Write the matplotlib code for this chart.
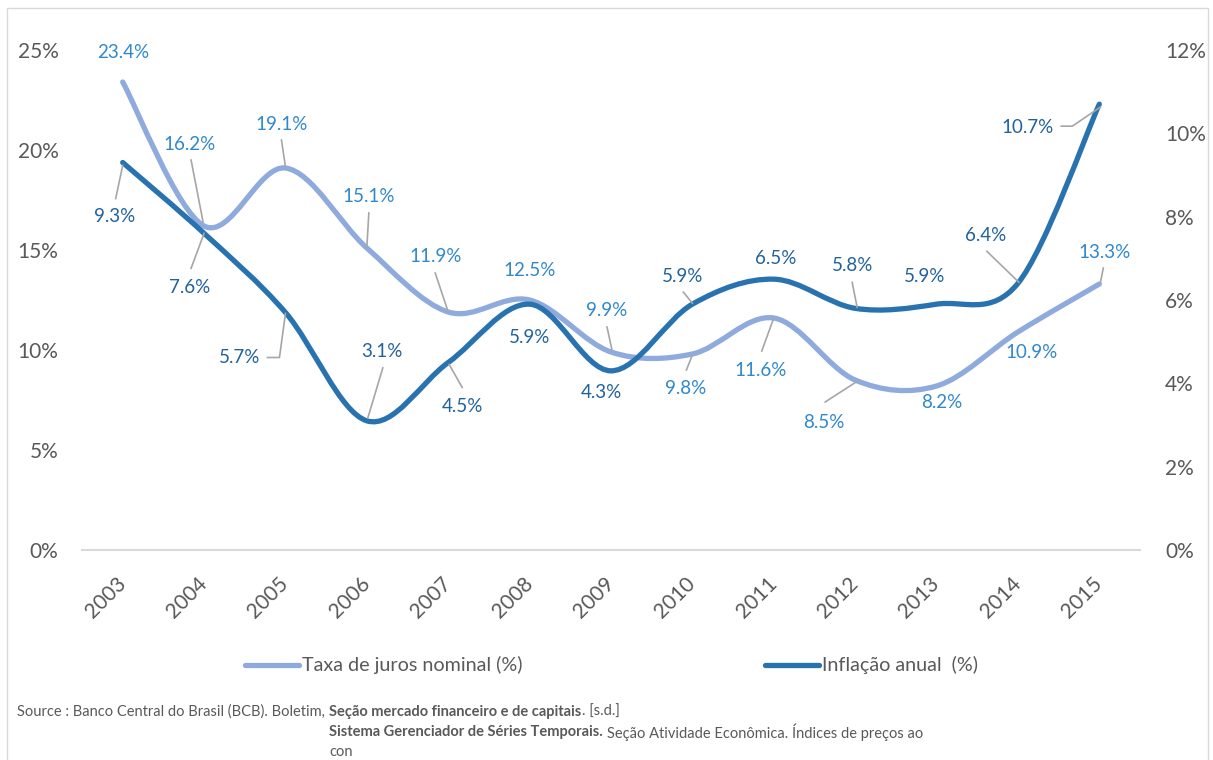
import matplotlib
matplotlib.use("Agg")
import matplotlib.pyplot as plt
from matplotlib.path import Path
from matplotlib.patches import PathPatch, Rectangle
from matplotlib.lines import Line2D
import numpy as np

plt.rcParams["font.family"] = ["Lato", "DejaVu Sans"]

# ---- data -----------------------------------------------------------------
years = [str(y) for y in range(2003, 2016)]
juros = [23.4, 16.2, 19.1, 15.1, 11.9, 12.5, 9.9, 9.8, 11.6, 8.5, 8.2, 10.9, 13.3]
inflacao = [9.3, 7.6, 5.7, 3.1, 4.5, 5.9, 4.3, 5.9, 6.5, 5.8, 5.9, 6.4, 10.7]
left_ticks = [0, 5, 10, 15, 20, 25]
right_ticks = [0, 2, 4, 6, 8, 10, 12]

# label placement (pixel offsets from each point, y down) and leader lines
juros_lbl = [(0, -30), (-15, -81), (-4, -44), (2, -51), (-13, -56), (0, -30),
             (-4, -42), (-7, 35), (-13, 52), (-31, 42), (5, 16), (14, 20), (5, -32)]
juros_lead = {1: [(-13, -66), (-1, -4)], 2: [(-4, -28), (0, -1)],
              3: [(2, -35), (0, -1)], 4: [(-13, -39), (0, 0)],
              6: [(-4, -25), (1, -2)], 7: [(-6, 16), (0, 1)],
              8: [(-12, 33), (0, 0)], 9: [(-30, 22), (1, 2)],
              12: [(4, -16), (1, -1)]}
infl_lbl = [(-8, 54), (-14, 54), (-46, 45), (15, -69), (14, 44), (0, 33),
            (-10, 22), (-10, -28), (2, -21), (-3, -43), (-12, -28), (-32, -48), (-72, 23)]
infl_lead = {0: [(-7, 36), (0, 3)], 1: [(-13, 35), (0, 0)],
             2: [(-18, 45), (-6, 45), (0, 1)], 3: [(16, -53), (1, -3)],
             4: [(14, 25), (1, 2)], 7: [(-9, -12), (0, -1)],
             9: [(-3, -26), (2, -1)], 11: [(-31, -32), (1, -1)],
             12: [(-38, 22), (-27, 22), (1, 3)]}

LIGHT = "#8FAADC"
DARK = "#2872B0"
LIGHT_TXT = "#2F88CB"
DARK_TXT = "#21629E"
GREY = "#595959"
LEAD = "#A6A6A6"

W, H = 1213, 760
fig = plt.figure(figsize=(W / 100, H / 100), dpi=100)
ax = fig.add_axes([82 / W, 1 - 550 / H, (1140 - 82) / W, 500 / H])
ax2 = ax.twinx()
ax.set_xlim(-0.5, 12.5)
ax.set_ylim(0, 25)
ax2.set_ylim(0, 12)

for a in (ax, ax2):
    for s in a.spines.values():
        s.set_visible(False)
    a.patch.set_visible(False)
ax.spines["bottom"].set_visible(True)
ax.spines["bottom"].set_color("#D9D9D9")
ax.spines["bottom"].set_linewidth(1.5)

ax.set_yticks(left_ticks)
ax.set_yticklabels([f"{t}%" for t in left_ticks])
ax2.set_yticks(right_ticks)
ax2.set_yticklabels([f"{t}%" for t in right_ticks])
ax.tick_params(axis="y", length=0, pad=17, labelsize=15, labelcolor=GREY)
ax2.tick_params(axis="y", length=0, pad=18, labelsize=15, labelcolor=GREY)

ax.set_xticks(range(len(years)))
ax.set_xticklabels(years, rotation=45, ha="right", va="center",
                   rotation_mode="anchor")
ax.tick_params(axis="x", length=0, pad=22, labelsize=15, labelcolor=GREY)


def smooth(xs, ys):
    pts = np.column_stack([xs, ys]).astype(float)
    n = len(pts)
    verts = [pts[0]]
    codes = [Path.MOVETO]
    for i in range(n - 1):
        p0 = pts[max(i - 1, 0)]
        p1 = pts[i]
        p2 = pts[i + 1]
        p3 = pts[min(i + 2, n - 1)]
        verts += [p1 + (p2 - p0) / 6, p2 - (p3 - p1) / 6, p2]
        codes += [Path.CURVE4] * 3
    return Path(verts, codes)


x = np.arange(len(years))
ax.add_patch(PathPatch(smooth(x, juros), fill=False, ec=LIGHT, lw=3.8,
                       capstyle="round", joinstyle="round", zorder=3))
ax2.add_patch(PathPatch(smooth(x, inflacao), fill=False, ec=DARK, lw=3.8,
                        capstyle="round", joinstyle="round", zorder=3))


def label_series(a, vals, lbl, lead, color):
    to_px = a.transData
    for i, v in enumerate(vals):
        dx, dy = lbl[i]
        a.annotate(f"{v:.1f}%", xy=(i, v), xytext=(dx, -dy),
                   textcoords="offset pixels", ha="center", va="center",
                   fontsize=13.5, color=color, zorder=5)
        if i in lead:
            px, py = to_px.transform((i, v))
            seg = [(px + ox, py - oy) for ox, oy in lead[i]]
            seg = to_px.inverted().transform(seg)
            a.plot(seg[:, 0], seg[:, 1], color=LEAD, lw=1.2, zorder=4)


label_series(ax, juros, juros_lbl, juros_lead, LIGHT_TXT)
label_series(ax2, inflacao, infl_lbl, infl_lead, DARK_TXT)

# legend
ly = 1 - 665 / H
fig.add_artist(Line2D([245 / W, 299 / W], [ly, ly], color=LIGHT, lw=3.8,
                      solid_capstyle="round"))
fig.text(302 / W, ly, "Taxa de juros nominal (%)", fontsize=14.2, color=GREY,
         va="center")
fig.add_artist(Line2D([765 / W, 819 / W], [ly, ly], color=DARK, lw=3.8,
                      solid_capstyle="round"))
fig.text(822 / W, ly, "Inflação anual  (%)", fontsize=14.2, color=GREY,
         va="center")

# source note with mixed weights
renderer = fig.canvas.get_renderer()
fs = 10.5


def run(parts, x0, y):
    xpos = x0
    for txt, bold, gap in parts:
        t = fig.text((xpos + gap) / W, y, txt, fontsize=fs, color=GREY,
                     va="center", fontweight="bold" if bold else "normal")
        xpos = t.get_window_extent(renderer).x1
    return xpos


first = fig.text(17 / W, 1 - 712 / H,
                 "Source : Banco Central do Brasil (BCB). Boletim,",
                 fontsize=fs, color=GREY, va="center")
x_bold = first.get_window_extent(renderer).x1 + 4
run([("Seção mercado financeiro e de capitais", True, 0),
     (". [s.d.]", False, 1)], x_bold, 1 - 712 / H)
run([("Sistema Gerenciador de Séries Temporais.", True, 0),
     ("Seção Atividade Econômica. Índices de preços ao", False, 4)],
    x_bold, 1 - 732 / H)
fig.text(x_bold / W, 1 - 752 / H, "con", fontsize=fs, color=GREY, va="center")

fig.add_artist(Rectangle((7 / W, -0.05), (1208 - 7) / W, 1 - 8 / H + 0.05,
                         transform=fig.transFigure, fill=False,
                         ec="#D9D9D9", lw=1))

fig.savefig("out.png", dpi=100)
